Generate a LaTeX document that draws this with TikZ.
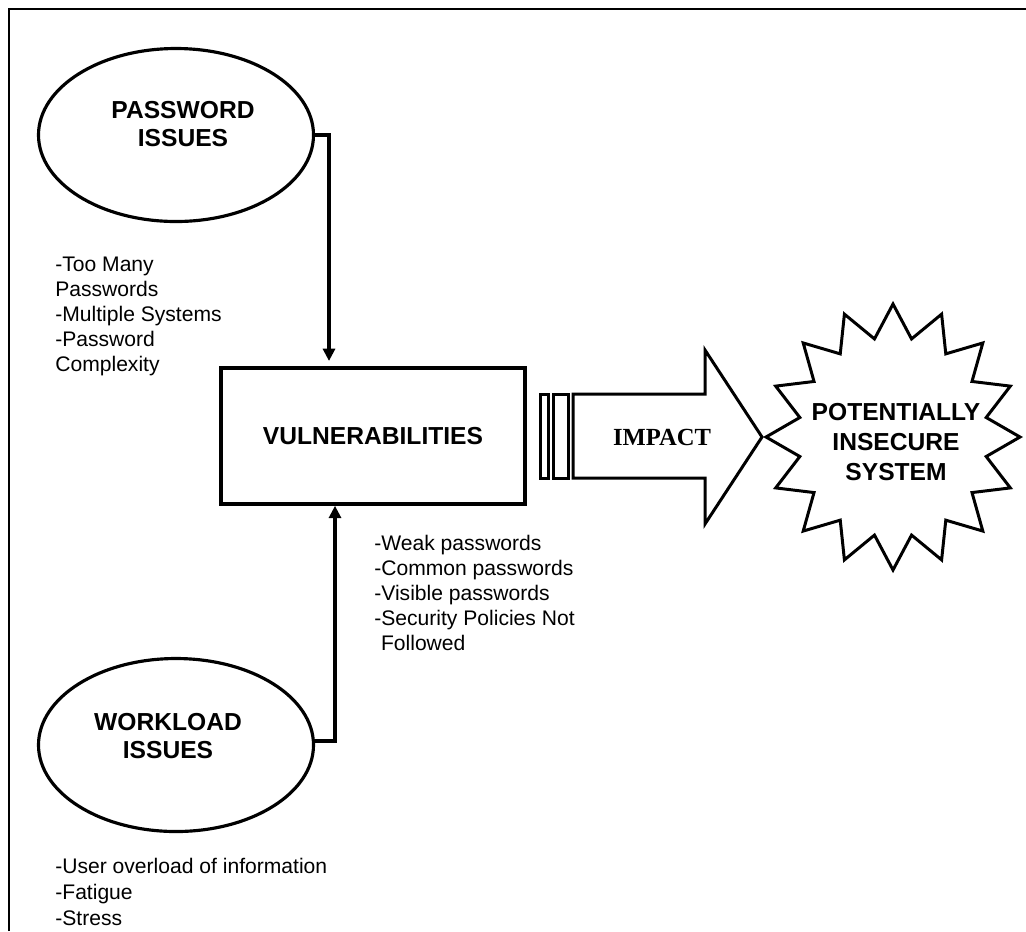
\documentclass[tikz,border=0pt]{standalone}
\usepackage{fontspec}
\setmainfont{Liberation Sans}
\newfontfamily\impactfont{Liberation Serif}
\usepackage{tikz}
\usetikzlibrary{shapes.geometric}
\usetikzlibrary{arrows.meta}
\usetikzlibrary{calc}
\newlength\pxu
\setlength\pxu{0.02cm}
\tikzstyle{bubble} = [draw, ellipse, line width=1.8pt, inner sep=0pt, minimum width=275*\pxu, minimum height=173*\pxu]
\tikzstyle{block} = [draw, line width=2pt, inner sep=0pt, minimum width=304*\pxu, minimum height=136*\pxu, align=center, font={\bfseries\fontsize{14}{16}\selectfont}]
\tikzstyle{title} = [align=center, font={\bfseries\fontsize{14}{16}\selectfont}]
\tikzstyle{notes} = [anchor=north west, inner sep=0pt, align=left, font={\fontsize{12}{14.2}\selectfont}]
\tikzstyle{outline} = [line width=1.7pt, line join=miter]
\tikzstyle{ln} = [draw, line width=1.8pt, arrows={-Triangle[length=7pt, width=6.8pt]}]

\begin{document}
\begin{tikzpicture}[x=\pxu, y=-\pxu]
  \useasboundingbox (0,0) rectangle (1026,931);
  \draw[line width=1.2pt] (9,931) -- (9,9) -- (1026,9);
  % causes
  \node[bubble] (pw) at (176,135) {};
  \node[title] (pwtitle) at (183,124) {PASSWORD\\ISSUES};
  \node[notes] (pwnotes) at (55,257) {-Too Many\\Passwords\\-Multiple Systems\\-Password\\Complexity};
  \node[bubble] (wl) at (176,745) {};
  \node[title] (wltitle) at (168,736) {WORKLOAD\\ISSUES};
  \node[notes, font={\fontsize{12}{14.7}\selectfont}] (wlnotes) at (55,858) {-User overload of information\\-Fatigue\\-Stress};
  % vulnerabilities
  \node[block] (vul) at (373,436) {VULNERABILITIES};
  \node[notes] (vulnotes) at (374,535) {-Weak passwords\\-Common passwords\\-Visible passwords\\-Security Policies Not\\\hspace*{3.8pt}Followed};
  \draw[ln, shorten >=3pt] (pw.east) -| ($(vul.north)+(-44,0)$);
  \draw[ln] ($(wl.east)+(0,-4)$) -| ($(vul.south)+(-38,0)$);
  % impact arrow
  \draw[outline] (540,394) rectangle (548,478);
  \draw[outline] (553,394) rectangle (568,478);
  \draw[outline] (573,394) -- (705,394) -- (705,350) -- (762,437) -- (705,524) -- (705,478) -- (573,478) -- cycle;
  \node[font={\impactfont\bfseries\fontsize{14}{16}\selectfont}] (impact) at (662,437) {IMPACT};
  % result
  \coordinate (burst) at (893,437);
  \draw[outline] ($(burst)+(90:127 and 133)$)
    \foreach \k in {0,...,15} {
      -- ($(burst)+({101.25+\k*22.5}:95 and 100)$) -- ($(burst)+({112.5+\k*22.5}:127 and 133)$)
    } -- cycle;
  \node[title, font={\bfseries\fontsize{14}{16.8}\selectfont}] (risk) at (896,442) {POTENTIALLY\\INSECURE\\SYSTEM};
\end{tikzpicture}
\end{document}
